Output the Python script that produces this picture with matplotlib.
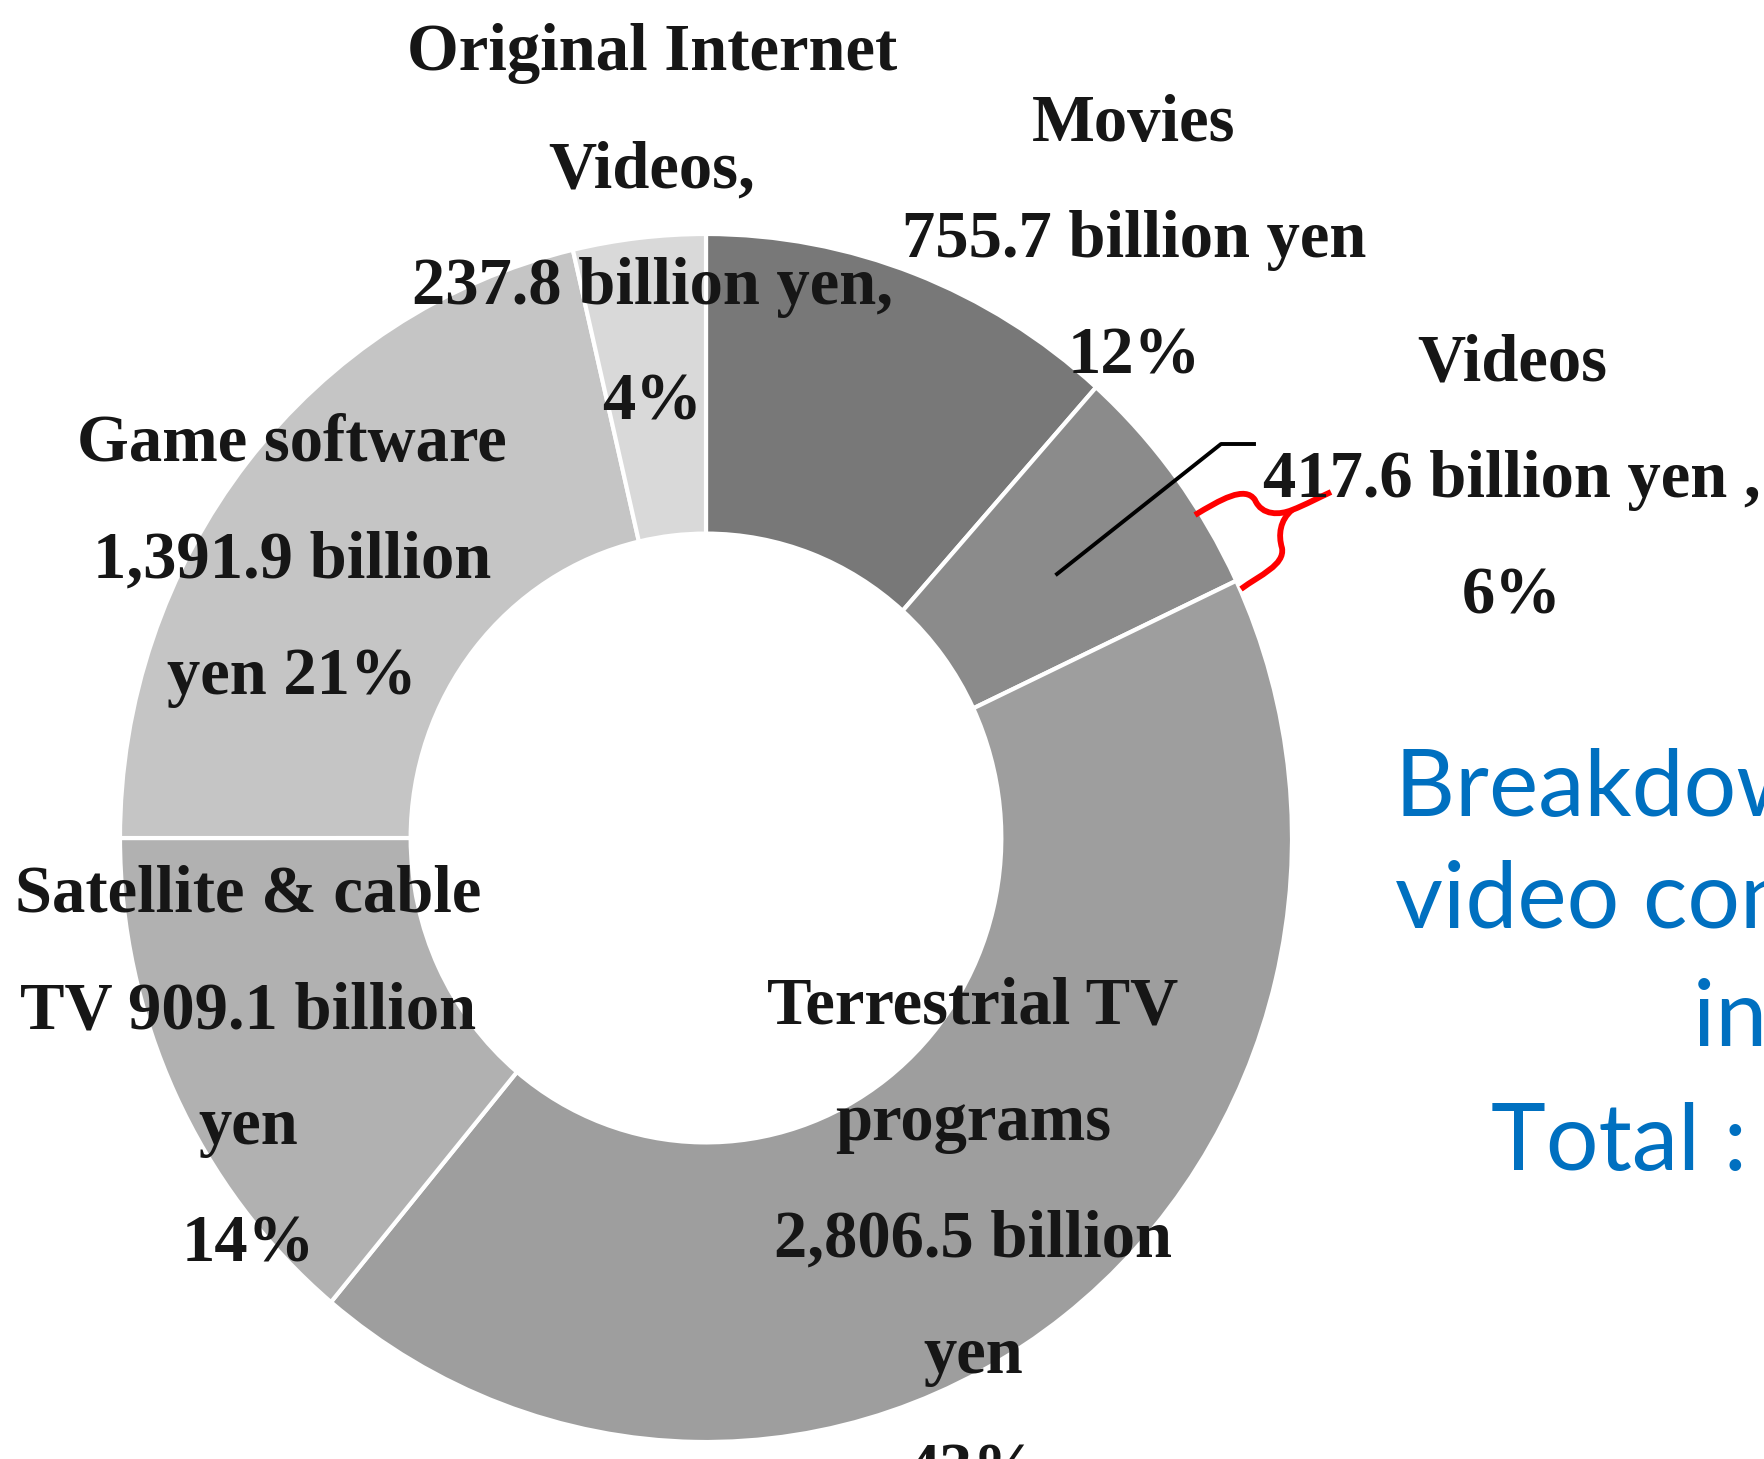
import matplotlib.pyplot as plt
from matplotlib.path import Path
from matplotlib.patches import PathPatch

# market size by category (billion yen), clockwise from 12 o'clock
categories = ["Movies", "Videos", "Terrestrial TV programs", "Satellite & cable TV",
              "Game software", "Original Internet Videos"]
values = [755.7, 417.6, 2806.5, 909.1, 1391.9, 237.8]
colors = ["#787878", "#8b8b8b", "#9e9e9e", "#b1b1b1", "#c5c5c5", "#d9d9d9"]

# label layouts, filled with value and share
label_fmt = [
    "Movies\n{v} billion yen\n{p}%",
    "Videos\n{v} billion yen ,\n{p}%",
    "Terrestrial TV\nprograms\n{v} billion\nyen\n{p}%",
    "Satellite & cable\nTV {v} billion\nyen\n{p}%",
    "Game software\n{v} billion\nyen {p}%",
    "Original Internet\nVideos,\n{v} billion yen,\n{p}%",
]
# label anchor (pixel coords, first line centre)
label_pos = [(1134, 124), (1512, 364), (973, 1007), (248, 895), (292, 445), (652, 54)]

title_lines = ["Breakdown of the market size of", "video content market",
               "in Japan", "Total : 6,518.6 billion yen"]

W, H = 1764, 1459
cx, cy, rx, ry = 706, 838, 586, 604

fig = plt.figure(figsize=(W / 100, H / 100), dpi=100)
ax = fig.add_axes([0, 0, 1, 1])
ax.pie(values, colors=colors, startangle=90, counterclock=False, radius=1,
       wedgeprops=dict(width=0.496, edgecolor="white", linewidth=3))
ax.set_aspect("auto")
ax.set_xlim(-cx / rx, (W - cx) / rx)
ax.set_ylim(-(H - cy) / ry, cy / ry)
ax.axis("off")

# overlay in pixel coordinates for text and annotations
ov = fig.add_axes([0, 0, 1, 1], facecolor="none")
ov.set_xlim(0, W)
ov.set_ylim(H, 0)
ov.axis("off")

total = sum(values)
for fmt, v, (x, y) in zip(label_fmt, values, label_pos):
    txt = fmt.format(v=f"{v:,.1f}", p=round(v / total * 100))
    for i, line in enumerate(txt.split("\n")):
        ov.text(x, y + i * 116.5, line, ha="center", va="center",
                family="Liberation Serif", weight="bold", fontsize=48, color="#161616")

# leader line for the Videos label
ov.plot([1057, 1221, 1254], [574, 444, 444], color="black", lw=2.8)

# red brace drawn as smooth curves
C = Path.CURVE4
upper = Path([(1195, 515), (1220, 500), (1245, 485), (1255, 500),
              (1262, 516), (1280, 515), (1292, 510),
              (1305, 505), (1320, 497), (1331, 492)],
             [Path.MOVETO, C, C, C, C, C, C, C, C, C])
lower = Path([(1292, 510), (1280, 520), (1278, 535), (1282, 548),
              (1285, 565), (1260, 575), (1241, 589)],
             [Path.MOVETO, C, C, C, C, C, C])
for p in (upper, lower):
    ov.add_patch(PathPatch(p, facecolor="none", edgecolor="red", lw=4.2,
                           capstyle="butt"))

# blue caption (cut off at the right edge)
blue_x = [1395, 1395, 1693, 1491]
blue_y = [816, 928, 1046, 1170]
for line, x, y in zip(title_lines, blue_x, blue_y):
    ov.text(x, y, line, ha="left", va="baseline", family="Lato",
            fontsize=67, color="#0070C0")

fig.savefig("out.png", dpi=100)
